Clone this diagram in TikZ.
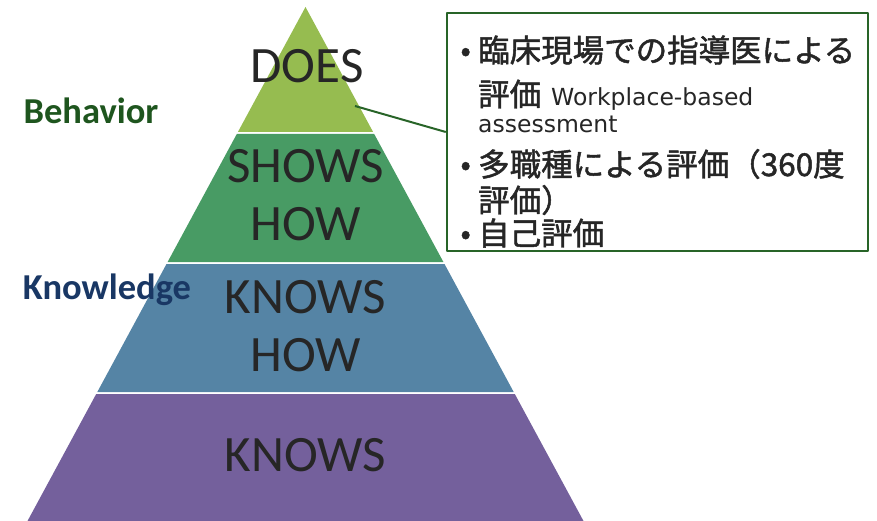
\documentclass[tikz,border=0pt]{standalone}
\usepackage{fontspec}
\setmainfont{Carlito}
\newfontfamily\cjk{Noto Sans CJK JP}[FakeBold=1.5]
\newfontfamily\latinsans{DejaVu Sans}
\usetikzlibrary{positioning}

\definecolor{doesgreen}{RGB}{150,188,80}
\definecolor{showsgreen}{RGB}{72,155,100}
\definecolor{knowshowblue}{RGB}{85,132,165}
\definecolor{knowspurple}{RGB}{116,96,156}
\definecolor{levelink}{RGB}{38,38,38}
\definecolor{notegreen}{RGB}{40,100,40}
\definecolor{behavgreen}{RGB}{30,85,30}
\definecolor{knowlblue}{RGB}{25,55,100}

\tikzset{
  level/.style={font=\fontsize{51}{58}\selectfont, text=levelink, align=center},
  side/.style={font=\bfseries\fontsize{36.5}{40}\selectfont},
  notebox/.style={draw=notegreen, line width=2.5pt, fill=white, minimum width=421pt, minimum height=238pt, inner sep=0pt},
  jp/.style={font=\cjk\fontsize{31.5}{36}\selectfont, text=black!85, anchor=base west, inner sep=0pt},
  en/.style={font=\latinsans\fontsize{23.5}{30}\selectfont, text=black!85, anchor=base west, inner sep=0pt},
  dot/.style={font=\cjk\fontsize{30}{36}\selectfont, text=black!85, anchor=base east, inner sep=0pt}
}

\begin{document}
\begin{tikzpicture}[x=1pt, y=-1pt, line join=round]
\useasboundingbox (0,0) rectangle (877,521);

% pyramid, four bands with thin white gaps
\fill[doesgreen] (305.5,7) -- (373.1,132) -- (237.9,132) -- cycle;
\fill[showsgreen] (236.8,134) -- (374.2,134) -- (443.4,262) -- (167.6,262) -- cycle;
\fill[knowshowblue] (166.5,264) -- (444.5,264) -- (513.7,392) -- (97.3,392) -- cycle;
\fill[knowspurple] (96.2,394) -- (514.8,394) -- (583.5,521) -- (27.5,521) -- cycle;

\node[level] (does) at (307,66) {DOES};
\node[level] (shows) at (305.5,195) {SHOWS\\HOW};
\node[level] (knowshow) at (305.5,326) {KNOWS\\HOW};
\node[level] (knows) at (305.5,455) {KNOWS};

\node[side, text=behavgreen] (behavior) at (91,111) {Behavior};
\node[side, text=knowlblue] (knowledge) at (107,290) {Knowledge};

% assessment methods for the top level
\coordinate (doesPt) at (355,106);
\node[notebox] (note) at (657.5,132) {};
\draw[notegreen, line width=2pt] (doesPt) -- (note.west);

\node[dot] (b1) at (471,61) {•};
\node[jp] (t1) at (478,62) {臨床現場での指導医による};
\node[jp] (t2) at (478,106) {評価\hspace{10pt}{\latinsans\fontsize{23.5}{30}\selectfont Workplace-based}};
\node[en] (t3) at (478,133) {assessment};
\node[dot] (b2) at (471,175) {•};
\node[jp] (t4) at (478,176) {多職種による評価（360度};
\node[jp] (t5) at (478,212) {評価）};
\node[dot] (b3) at (471,244) {•};
\node[jp] (t6) at (478,245) {自己評価};
\end{tikzpicture}
\end{document}
